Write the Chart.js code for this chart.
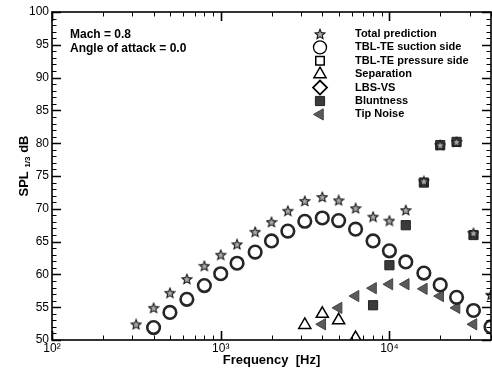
<!DOCTYPE html>
<html>
<head>
<meta charset="utf-8">
<script src="https://cdn.jsdelivr.net/npm/chart.js@4/dist/chart.umd.min.js"></script>
<style>
  html, body { margin: 0; padding: 0; background: #fff; overflow: hidden; }
  canvas { display: block; }
</style>
</head>
<body>
<canvas id="spl" width="492" height="371"></canvas>
<script>
// --- DONNÉES (1/3 octave) ---
const frequencies = [315, 400, 500, 630, 800, 1000, 1250, 1600, 2000, 2500, 3150, 4000, 5000, 6300, 8000, 10000, 12500, 16000, 20000, 25000, 31500, 40000];
const totalPrediction = [52.4, 54.9, 57.2, 59.3, 61.3, 63.0, 64.6, 66.5, 68.0, 69.7, 71.2, 71.8, 71.3, 70.1, 68.8, 68.2, 69.8, 74.2, 79.7, 80.2, 66.3, 56.9];
const suctionSide = [null, 51.9, 54.2, 56.2, 58.3, 60.1, 61.7, 63.4, 65.1, 66.6, 68.1, 68.6, 68.2, 66.9, 65.1, 63.6, 61.9, 60.2, 58.4, 56.5, 54.5, 52.0];
const pressureSide = [null, null, null, null, null, null, null, null, null, null, null, null, null, null, null, null, null, null, null, null, null, null];
const separation = [null, null, null, null, null, null, null, null, null, null, 52.3, 54.0, 53.0, 50.3, null, null, null, null, null, null, null, null];
const lbsVs = [null, null, null, null, null, null, null, null, null, null, null, null, null, null, null, null, null, null, null, null, null, null];
const bluntness = [null, null, null, null, null, null, null, null, null, null, null, null, null, null, 55.3, 61.4, 67.5, 74.0, 79.7, 80.2, 66.0, null];
const tipNoise = [null, null, null, null, null, null, null, null, null, null, null, 52.4, 54.9, 56.7, 57.9, 58.5, 58.5, 57.8, 56.7, 54.9, 52.4, null];

const xTickLabels = { 100: '10²', 1000: '10³', 10000: '10⁴' };
const notes = ['Mach = 0.8', 'Angle of attack = 0.0'];

const FONT = '"Liberation Sans", Arial, sans-serif';

// petite étoile à 5 branches (image utilisée comme pointStyle)
function makeStar(size) {
    const c = document.createElement('canvas');
    c.width = size; c.height = size;
    const g = c.getContext('2d');
    const cx = size / 2, cy = size / 2 + 0.5, R = size / 2 - 0.8, r = R * 0.45;
    g.beginPath();
    for (let i = 0; i < 10; i++) {
        const rad = i % 2 === 0 ? R : r;
        const a = -Math.PI / 2 + i * Math.PI / 5;
        g.lineTo(cx + rad * Math.cos(a), cy + rad * Math.sin(a));
    }
    g.closePath();
    g.fillStyle = '#a8a8a8';
    g.fill();
    g.lineWidth = 1.1;
    g.strokeStyle = '#1a1a1a';
    g.stroke();
    return c;
}
const starImg = makeStar(12);

function toPoints(values) {
    const pts = [];
    values.forEach((v, i) => { if (v !== null) pts.push({ x: frequencies[i], y: v }); });
    return pts;
}

const datasets = [
    { label: 'Total prediction', data: toPoints(totalPrediction), pointStyle: starImg, pointRadius: 6 },
    { label: 'TBL-TE suction side', data: toPoints(suctionSide), pointStyle: 'circle', pointRadius: 6.3,
      pointBorderWidth: 2.6, pointBorderColor: '#262626', pointBackgroundColor: 'rgba(255,255,255,0)' },
    { label: 'TBL-TE pressure side', data: toPoints(pressureSide), pointStyle: 'rect', pointRadius: 6,
      pointBorderWidth: 1.5, pointBorderColor: '#000', pointBackgroundColor: '#fff' },
    { label: 'Separation', data: toPoints(separation), pointStyle: 'triangle', pointRadius: 7,
      pointBorderWidth: 1.5, pointBorderColor: '#000', pointBackgroundColor: '#fff' },
    { label: 'LBS-VS', data: toPoints(lbsVs), pointStyle: 'rectRot', pointRadius: 7,
      pointBorderWidth: 1.8, pointBorderColor: '#000', pointBackgroundColor: '#fff' },
    { label: 'Bluntness', data: toPoints(bluntness), pointStyle: 'rect', pointRadius: 6.5,
      pointBorderWidth: 1, pointBorderColor: '#222', pointBackgroundColor: '#3a3a3a' },
    { label: 'Tip Noise', data: toPoints(tipNoise), pointStyle: 'triangle', pointRadius: 6.5, pointRotation: -90,
      pointBorderWidth: 1, pointBorderColor: '#444', pointBackgroundColor: '#5a5a5a' }
];
datasets.forEach(d => { d.showLine = false; d.pointHoverRadius = d.pointRadius; });

// --- CADRE, GRADUATIONS INTÉRIEURES, LÉGENDE, TEXTES ---
const framePlugin = {
    id: 'frame',
    afterDraw(chart) {
        const ctx = chart.ctx;
        const a = chart.chartArea;
        const xs = chart.scales.x, ys = chart.scales.y;
        ctx.save();
        ctx.strokeStyle = '#000';

        // graduations x (log) sur le bas et le haut
        for (let dec = 100; dec <= 10000; dec *= 10) {
            for (let m = 1; m <= 9; m++) {
                const v = dec * m;
                if (v > xs.max) break;
                const px = Math.round(xs.getPixelForValue(v)) + 0.5;
                const len = m === 1 ? 9 : 4.5;
                ctx.lineWidth = m === 1 ? 1.6 : 1;
                ctx.beginPath();
                ctx.moveTo(px, a.bottom); ctx.lineTo(px, a.bottom - len);
                ctx.moveTo(px, a.top); ctx.lineTo(px, a.top + len);
                ctx.stroke();
            }
        }
        // graduations y à gauche et à droite
        for (let v = ys.min; v <= ys.max; v += 1) {
            const py = Math.round(ys.getPixelForValue(v)) + 0.5;
            const major = v % 5 === 0;
            const len = major ? 9 : 4.5;
            ctx.lineWidth = major ? 1.6 : 1;
            ctx.beginPath();
            ctx.moveTo(a.left, py); ctx.lineTo(a.left + len, py);
            ctx.moveTo(a.right, py); ctx.lineTo(a.right - len, py);
            ctx.stroke();
        }
        ctx.lineWidth = 1.6;
        ctx.strokeRect(a.left, a.top, a.right - a.left, a.bottom - a.top);

        // titre y avec indice 1/3
        ctx.fillStyle = '#000';
        ctx.translate(24, 166);
        ctx.rotate(-Math.PI / 2);
        ctx.textBaseline = 'middle';
        ctx.font = 'bold 13px ' + FONT;
        const w1 = ctx.measureText('SPL ').width;
        ctx.font = 'bold 8px ' + FONT;
        const w2 = ctx.measureText('1/3').width;
        ctx.font = 'bold 13px ' + FONT;
        const w3 = ctx.measureText(' dB').width;
        let x0 = -(w1 + w2 + w3) / 2;
        ctx.textAlign = 'left';
        ctx.fillText('SPL ', x0, 0);
        ctx.font = 'bold 8px ' + FONT;
        ctx.fillText('1/3', x0 + w1, 4);
        ctx.font = 'bold 13px ' + FONT;
        ctx.fillText(' dB', x0 + w1 + w2, 0);
        ctx.restore();

        // texte Mach / incidence
        ctx.save();
        ctx.fillStyle = '#000';
        ctx.font = 'bold 12px ' + FONT;
        ctx.textBaseline = 'middle';
        notes.forEach((t, i) => ctx.fillText(t, 70, 35 + i * 13.5));

        // légende
        ctx.font = 'bold 11px ' + FONT;
        chart.data.datasets.forEach((ds, i) => {
            const y = 34 + i * 13.4;
            let opts = {
                pointStyle: ds.pointStyle,
                radius: ds.pointRadius,
                rotation: ds.pointRotation || 0,
                borderWidth: ds.pointBorderWidth || 0
            };
            if (i === 0) opts.radius = 5;
            ctx.save();
            ctx.fillStyle = ds.pointBackgroundColor || '#000';
            ctx.strokeStyle = ds.pointBorderColor || '#000';
            ctx.lineWidth = opts.borderWidth;
            if (i === 1) { ctx.lineWidth = 1.3; ctx.strokeStyle = '#000'; opts.radius = 6.5; opts.borderWidth = 1.3; }
            Chart.helpers.drawPoint(ctx, opts, 320, y);
            ctx.restore();
            ctx.fillStyle = '#000';
            ctx.fillText(ds.label, 355, y);
        });
        ctx.restore();
    }
};

const chart = new Chart(document.getElementById('spl'), {
    type: 'scatter',
    data: { datasets: datasets },
    plugins: [framePlugin],
    options: {
        responsive: false,
        animation: false,
        layout: { autoPadding: false, padding: { left: 0, top: 12, right: 1, bottom: 0 } },
        plugins: { legend: { display: false }, tooltip: { enabled: false } },
        scales: {
            x: {
                type: 'logarithmic',
                min: 100,
                max: 40000,
                grid: { display: false, drawTicks: false },
                border: { display: false },
                ticks: {
                    autoSkip: false,
                    maxRotation: 0,
                    padding: 1,
                    color: '#000',
                    font: { family: FONT, size: 12 },
                    callback: v => xTickLabels[v] || ''
                },
                title: {
                    display: true,
                    text: 'Frequency  [Hz]',
                    color: '#000',
                    font: { family: FONT, size: 13, weight: 'bold' },
                    padding: { top: 0, bottom: 3 }
                },
                afterFit: s => { s.height = 31; s.paddingLeft = 0; s.paddingRight = 0; }
            },
            y: {
                min: 50,
                max: 100,
                grid: { display: false, drawTicks: false },
                border: { display: false },
                ticks: {
                    stepSize: 5,
                    padding: 3,
                    color: '#000',
                    font: { family: FONT, size: 12 }
                },
                afterFit: s => { s.width = 52; s.paddingTop = 0; s.paddingBottom = 0; }
            }
        }
    }
});
</script>
</body>
</html>
